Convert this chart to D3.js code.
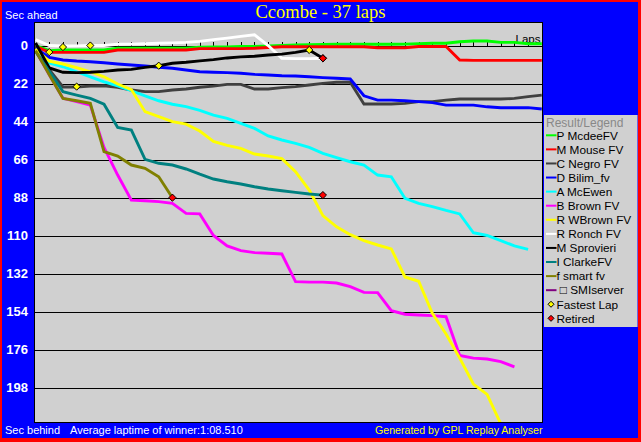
<!DOCTYPE html>
<html><head><meta charset="utf-8">
<script src="https://cdn.jsdelivr.net/npm/d3@7/dist/d3.min.js"></script>
<style>html,body{margin:0;padding:0;background:#ff0000;overflow:hidden}svg{display:block}</style>
</head><body>
<svg id="chart" width="641" height="442"></svg>
<script>
// ---------- data ----------
const title = "Ccombe - 37 laps";
const totalLaps = 37;
const yTicks = [0, 22, 44, 66, 88, 110, 132, 154, 176, 198];
const lapTicks = d3.range(1, totalLaps);
const driverNames = ["P McdeeFV","M Mouse FV","C Negro FV","D Bilim_fv","A McEwen","B Brown FV","R WBrown FV","R Ronch FV","M Sprovieri","I ClarkeFV","f smart fv","\u00A0\u25A1 SMIserver"];
// seconds behind the winner's average pace, per lap (lap 0 = start)
const mcdee = [0,3.0,2.6,2.6,2.6,2.6,1.5,1.5,1.5,1.5,1.5,1.5,1.0,0.9,0.8,0.6,0.5,0.3,-0.1,-0.3,-0.5,-0.6,-0.7,-0.7,-0.7,-0.7,-0.7,-0.8,-1.0,-1.3,-1.3,-2.2,-2.6,-2.6,-1.8,-1.8,-1.0,-1.0];
const mouse = [0.5,4.0,4.0,4.0,4.0,4.0,2.6,2.6,2.6,2.6,2.6,2.6,1.8,1.8,1.8,1.8,1.6,1.2,0.7,0.7,0.7,0.7,0.7,0.7,0.7,1.3,1.3,1.3,0.6,0.6,0.6,8.4,8.6,8.6,8.6,8.6,8.6,8.6];
const negro = [0,14,24,24,23.5,23.3,24.2,25.8,26.7,26.7,25.8,25.2,24.2,23.5,22.5,22.5,25.2,25.2,24.4,23.8,22.9,21.9,21.3,21.3,33.9,33.9,33.9,33.5,32.5,32.5,31.6,31,31,31,31,30.6,29.6,28.7];
const bilim = [1.5,6.9,8.4,9.0,9.4,10.0,10.7,11.3,11.9,12.6,13.2,14.2,15.2,15.5,15.7,16.1,16.7,17.1,17.5,17.7,18.1,18.6,19.0,19.4,29.1,31.6,31.6,32.0,32.5,33.1,34.5,34.5,34.5,35.5,36.0,36.0,36.0,36.8];
const mcewen = [2.5,10.1,12.3,15.2,18.1,21,23.4,26.2,29.2,32,34,35.4,37.5,40.3,42.2,45.1,48,52.4,54.7,56.7,59,62.4,64.9,67.3,69.2,75,76,88.5,91.4,93.3,95.5,97.5,108.4,110,113,116,118];
const brown = [3,17,30.6,32.5,34.5,59,75,89.5,89.9,90.4,91.4,97.2,97.5,110,116,118.8,119.9,120.3,120.7,136.7,137,137,137.5,139.6,142.9,143.1,153.5,155.6,156,156.4,157,179.5,181,181.5,183,186];
const wbrown = [2,9.1,10.7,12.8,15.2,18.1,22.3,25.5,38.3,41.2,44.1,45.5,49.5,55.5,57.8,59.6,62.8,64,65.5,73,83.7,98.5,105,109.5,113,115.5,117.8,134,136.5,155,167,181,196,202,219];
const ronch = [-3.4,0,0.3,0.2,0,0,-0.7,-0.8,-1.0,-1.3,-1.5,-1.8,-2.4,-3.4,-4.3,-5.3,-6.2,0,7.4,7.6,7.6,7.4];
const sprovieri = [-1.5,13,15.5,15.7,15.5,15.0,14.2,13.8,12.7,11.7,10.3,9.7,8.9,8.2,7.2,6.6,6.2,5.5,5.0,4.0,2.6,7.4];
const clarke = [3.5,15,26.7,28.7,30.6,34,47.5,49,65.9,68.2,69.2,71.5,74.5,77.3,78.9,80.2,81.8,83.1,84.1,85,86,86.6];
const smart = [3,17,30.6,32,33.5,61.5,64,69.2,71.1,76,88.1];
const smiserver = [];
const seriesValues = [mcdee, mouse, negro, bilim, mcewen, brown, wbrown, ronch, sprovieri, clarke, smart, smiserver];
const retiredDrivers = ["R Ronch FV","M Sprovieri","I ClarkeFV","f smart fv"];
const fastestLapLaps = [1, 2, 3, 4, 9, 20];
const fastestLapSecs = [3.8, 0.9, 23.8, 0, 11.7, 2.6];

// ---------- styles ----------
const colors = ["#00ff00","#ff0000","#404040","#0000ff","#00ffff","#ff00ff","#ffff00","#ffffff","#000000","#008080","#808000","#800080"];
const plotBg = "#d0d0d0";

const svg = d3.select("#chart");
const W = 641, H = 442;
const P = {l: 34.5, t: 22.5, r: 542.5, b: 422.5};

svg.append("rect").attr("width", W).attr("height", H).attr("fill", "#ff0000");
svg.append("rect").attr("x", 2).attr("y", 2).attr("width", 636).attr("height", 436).attr("fill", "#0000ff");

const x = d3.scaleLinear().domain([0, totalLaps]).range([35.6, 541.8]);
const y = d3.scaleLinear().domain([0, 198]).range([45.5, 387.5]);

// plot area
svg.append("rect").attr("x", P.l).attr("y", P.t).attr("width", P.r - P.l).attr("height", P.b - P.t)
  .attr("fill", plotBg).attr("stroke", "#000").attr("stroke-width", 1);

svg.append("defs").append("clipPath").attr("id", "clip").append("rect")
  .attr("x", P.l + 0.5).attr("y", P.t + 0.5).attr("width", P.r - P.l - 1).attr("height", P.b - P.t - 1);

// gridlines
const grid = svg.append("g").attr("transform", `translate(${P.l + 0.5},0)`)
  .call(d3.axisRight(y).tickValues(yTicks.filter(v => v > 0)).tickSize(P.r - P.l - 1).tickFormat(""));
grid.select(".domain").remove();
grid.selectAll("line").attr("stroke", "#000").attr("shape-rendering", "crispEdges");

// zero line with lap ticks
const lapAxis = svg.append("g").attr("transform", `translate(0,${y(0)})`)
  .call(d3.axisTop(x).tickValues(lapTicks).tickSize(4).tickSizeOuter(0).tickFormat(""));
lapAxis.select(".domain").attr("stroke", "#000").attr("shape-rendering", "crispEdges");
lapAxis.selectAll(".tick line").attr("stroke", "#000").attr("shape-rendering", "crispEdges");

// y labels
const yAxis = svg.append("g").attr("transform", `translate(${P.l},0)`)
  .call(d3.axisLeft(y).tickValues(yTicks).tickSize(0).tickPadding(6.5));
yAxis.select(".domain").remove();
yAxis.selectAll("text").attr("fill", "#fff").attr("font-family", "'Liberation Sans', Arial, sans-serif")
  .attr("font-size", "13px").attr("font-weight", "bold");

// "Laps"
svg.append("text").attr("x", 540.5).attr("y", 42.5).attr("text-anchor", "end")
  .attr("font-family", "'Liberation Sans', Arial, sans-serif").attr("font-size", "11.5px").attr("fill", "#000").text("Laps");

// lines
const line = d3.line().x((d, i) => x(i)).y(d => y(d));
const lines = svg.append("g").attr("clip-path", "url(#clip)");
seriesValues.forEach((vals, i) => {
  if (vals.length < 2) return;
  lines.append("path").datum(vals).attr("d", line).attr("fill", "none")
    .attr("stroke", colors[i]).attr("stroke-width", 2.9).attr("stroke-linejoin", "miter");
});

const diamond = "M0,-3.6L3.6,0L0,3.6L-3.6,0Z";
// fastest lap markers
fastestLapLaps.forEach((lap, i) => {
  svg.append("path").attr("d", diamond).attr("transform", `translate(${x(lap)},${y(fastestLapSecs[i])})`)
    .attr("fill", "#ffff00").attr("stroke", "#000").attr("stroke-width", 1);
});
// retired markers
retiredDrivers.forEach(name => {
  const vals = seriesValues[driverNames.indexOf(name)];
  const lap = vals.length - 1;
  svg.append("path").attr("d", diamond).attr("transform", `translate(${x(lap)},${y(vals[lap])})`)
    .attr("fill", "#ff0000").attr("stroke", "#000").attr("stroke-width", 1);
});

// title & texts
const sans = "'Liberation Sans', Arial, sans-serif";
svg.append("text").attr("x", 320.5).attr("y", 18).attr("text-anchor", "middle")
  .attr("font-family", "'Liberation Serif', 'Times New Roman', serif").attr("font-size", "18.5px")
  .attr("fill", "#ffff00").text(title);
svg.append("text").attr("x", 5).attr("y", 19).attr("font-family", sans).attr("font-size", "11px").attr("fill", "#fff").text("Sec ahead");
svg.append("text").attr("x", 5).attr("y", 434).attr("font-family", sans).attr("font-size", "11px").attr("fill", "#fff").text("Sec behind");
svg.append("text").attr("x", 70).attr("y", 434).attr("font-family", sans).attr("font-size", "11px").attr("fill", "#fff").text("Average laptime of winner:1:08.510");
svg.append("text").attr("x", 542.5).attr("y", 434).attr("text-anchor", "end").attr("font-family", sans).attr("font-size", "10.6px").attr("fill", "#ffff00").text("Generated by GPL Replay Analyser");

// legend
const lg = svg.append("g");
lg.append("rect").attr("x", 544).attr("y", 115).attr("width", 93.5).attr("height", 212).attr("fill", plotBg);
lg.append("text").attr("x", 546).attr("y", 126.5).attr("font-family", sans).attr("font-size", "12px").attr("fill", "#888").text("Result/Legend");
const rowY = i => 135.3 + i * 14.08;
driverNames.forEach((name, i) => {
  lg.append("line").attr("x1", 546).attr("x2", 556.5).attr("y1", rowY(i)).attr("y2", rowY(i))
    .attr("stroke", colors[i]).attr("stroke-width", 2);
  lg.append("text").attr("x", 556.5).attr("y", rowY(i) + 4.3).attr("font-family", sans).attr("font-size", "11.8px")
    .attr("fill", "#000").text(name);
});
const nL = driverNames.length;
lg.append("path").attr("d", "M0,-3L3,0L0,3L-3,0Z").attr("transform", `translate(551,${rowY(nL)})`)
  .attr("fill", "#ffff00").attr("stroke", "#000").attr("stroke-width", 1);
lg.append("text").attr("x", 556.5).attr("y", rowY(nL) + 4.3).attr("font-family", sans).attr("font-size", "11.8px").text("Fastest Lap");
lg.append("path").attr("d", "M0,-3L3,0L0,3L-3,0Z").attr("transform", `translate(551,${rowY(nL + 1)})`)
  .attr("fill", "#ff0000").attr("stroke", "#000").attr("stroke-width", 1);
lg.append("text").attr("x", 556.5).attr("y", rowY(nL + 1) + 4.3).attr("font-family", sans).attr("font-size", "11.8px").text("Retired");
</script>
</body></html>
